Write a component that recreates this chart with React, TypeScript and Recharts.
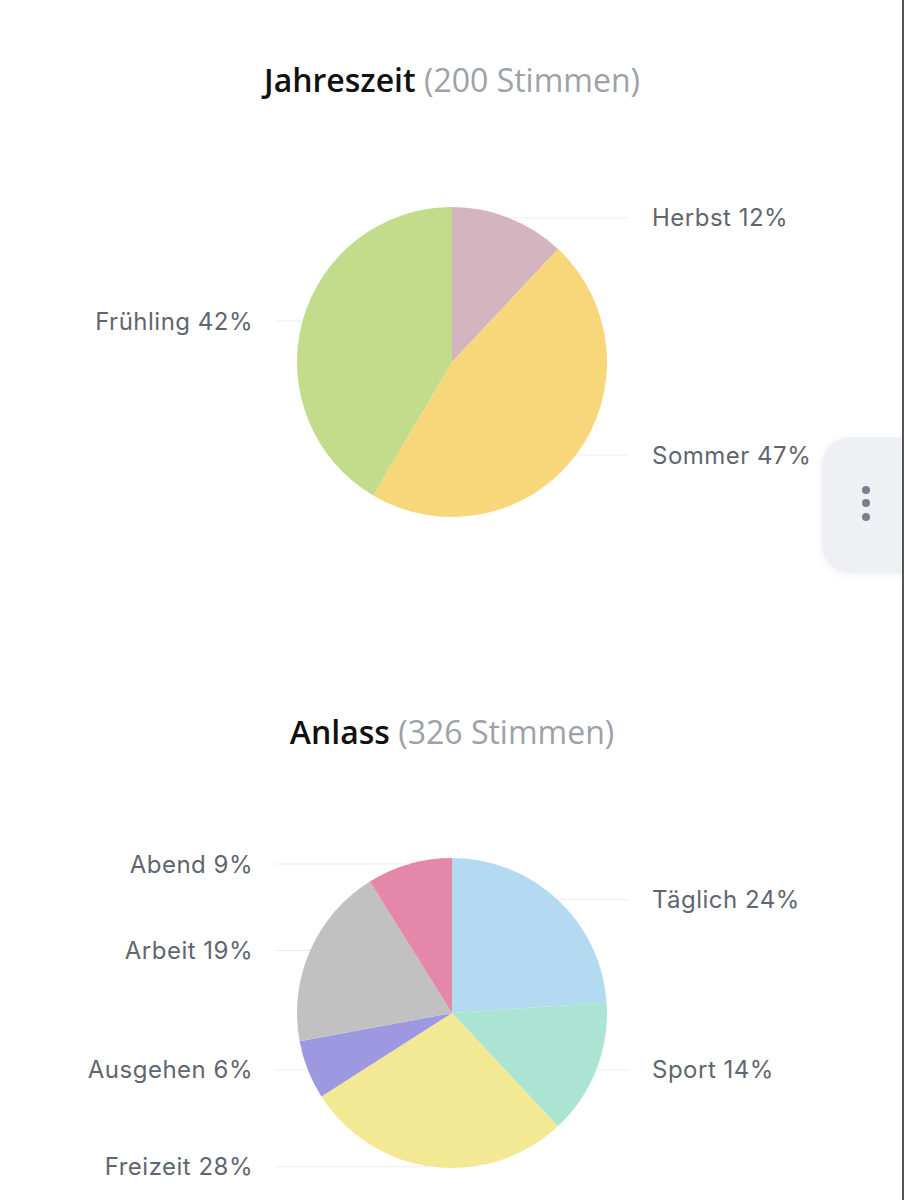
import { PieChart, Pie, Cell } from "recharts";

// Jahreszeit (200 Stimmen)
const seasonNames = ["Herbst", "Sommer", "Frühling"];
const seasonVotes = [24, 93, 83];
const seasonPercents = [12, 47, 42];
const seasonColors = ["#D4B4BE", "#F8D67A", "#C2DC8C"];

// Anlass (326 Stimmen)
const occasionNames = ["Täglich", "Sport", "Freizeit", "Ausgehen", "Arbeit", "Abend"];
const occasionVotes = [78, 46, 91, 20, 62, 29];
const occasionPercents = [24, 14, 28, 6, 19, 9];
const occasionColors = ["#B4DAF1", "#ABE4D3", "#F3E994", "#9E98E0", "#C1C1C1", "#E587A9"];

const RADIAN = Math.PI / 180;

function makeLabel(names: string[], percents: number[]) {
  return (props: any) => {
    const { cx, cy, midAngle, outerRadius, index } = props;
    const px = cx + outerRadius * Math.cos(-midAngle * RADIAN);
    const py = cy + outerRadius * Math.sin(-midAngle * RADIAN);
    const right = px > cx;
    const lineEnd = right ? cx + 176 : cx - 177;
    const textX = right ? cx + 200 : cx - 199;
    return (
      <g>
        <line x1={px} y1={py} x2={lineEnd} y2={py} stroke="#EDEDED" strokeWidth={1} />
        <text
          x={textX}
          y={py}
          dominantBaseline="central"
          textAnchor={right ? "start" : "end"}
          fill="#5F6670"
          style={{ fontFamily: "Inter, sans-serif", fontSize: 24, letterSpacing: 0.5 }}
        >
          {`${names[index]} ${percents[index]}%`}
        </text>
      </g>
    );
  };
}

function Title({ top, name, votes }: { top: number; name: string; votes: number }) {
  return (
    <div
      style={{
        position: "absolute",
        left: 0,
        top,
        width: 904,
        textAlign: "center",
        fontFamily: "'Open Sans', sans-serif",
        fontSize: 32,
        lineHeight: "32px",
        whiteSpace: "nowrap",
      }}
    >
      <span style={{ fontWeight: 600, color: "#111111" }}>{name}</span>
      <span style={{ color: "#9DA1AA" }}> ({votes} Stimmen)</span>
    </div>
  );
}

export default function App() {
  const seasonData = seasonNames.map((name, i) => ({ name, value: seasonVotes[i] }));
  const occasionData = occasionNames.map((name, i) => ({ name, value: occasionVotes[i] }));
  const seasonTotal = seasonVotes.reduce((a, b) => a + b, 0);
  const occasionTotal = occasionVotes.reduce((a, b) => a + b, 0);

  return (
    <div
      style={{
        position: "absolute",
        left: 0,
        top: 0,
        width: 904,
        height: 1200,
        background: "#FFFFFF",
        overflow: "hidden",
      }}
    >
      <Title top={64} name="Jahreszeit" votes={seasonTotal} />
      <Title top={716} name="Anlass" votes={occasionTotal} />

      <div style={{ position: "absolute", left: 0, top: 0 }}>
        <PieChart width={904} height={1200} margin={{ top: 0, right: 0, bottom: 0, left: 0 }}>
          <Pie
            data={seasonData}
            dataKey="value"
            nameKey="name"
            cx={452}
            cy={362}
            outerRadius={155}
            startAngle={90}
            endAngle={-270}
            stroke="none"
            labelLine={false}
            label={makeLabel(seasonNames, seasonPercents)}
            isAnimationActive={false}
          >
            {seasonData.map((d, i) => (
              <Cell key={d.name} fill={seasonColors[i]} />
            ))}
          </Pie>
          <Pie
            data={occasionData}
            dataKey="value"
            nameKey="name"
            cx={452}
            cy={1013}
            outerRadius={155}
            startAngle={90}
            endAngle={-270}
            stroke="none"
            labelLine={false}
            label={makeLabel(occasionNames, occasionPercents)}
            isAnimationActive={false}
          >
            {occasionData.map((d, i) => (
              <Cell key={d.name} fill={occasionColors[i]} />
            ))}
          </Pie>
        </PieChart>
      </div>

      {/* floating menu button */}
      <div
        style={{
          position: "absolute",
          left: 822,
          top: 437,
          width: 110,
          height: 136,
          borderRadius: 28,
          background: "#EEF0F4",
          boxShadow: "0 2px 10px rgba(0,0,0,0.06)",
        }}
      />
      {[490, 503, 517].map((y) => (
        <div
          key={y}
          style={{
            position: "absolute",
            left: 862,
            top: y - 4,
            width: 8,
            height: 8,
            borderRadius: 4,
            background: "#7B7F8C",
          }}
        />
      ))}
      <div
        style={{
          position: "absolute",
          left: 902,
          top: 0,
          width: 2,
          height: 1200,
          background: "#555555",
        }}
      />
    </div>
  );
}
